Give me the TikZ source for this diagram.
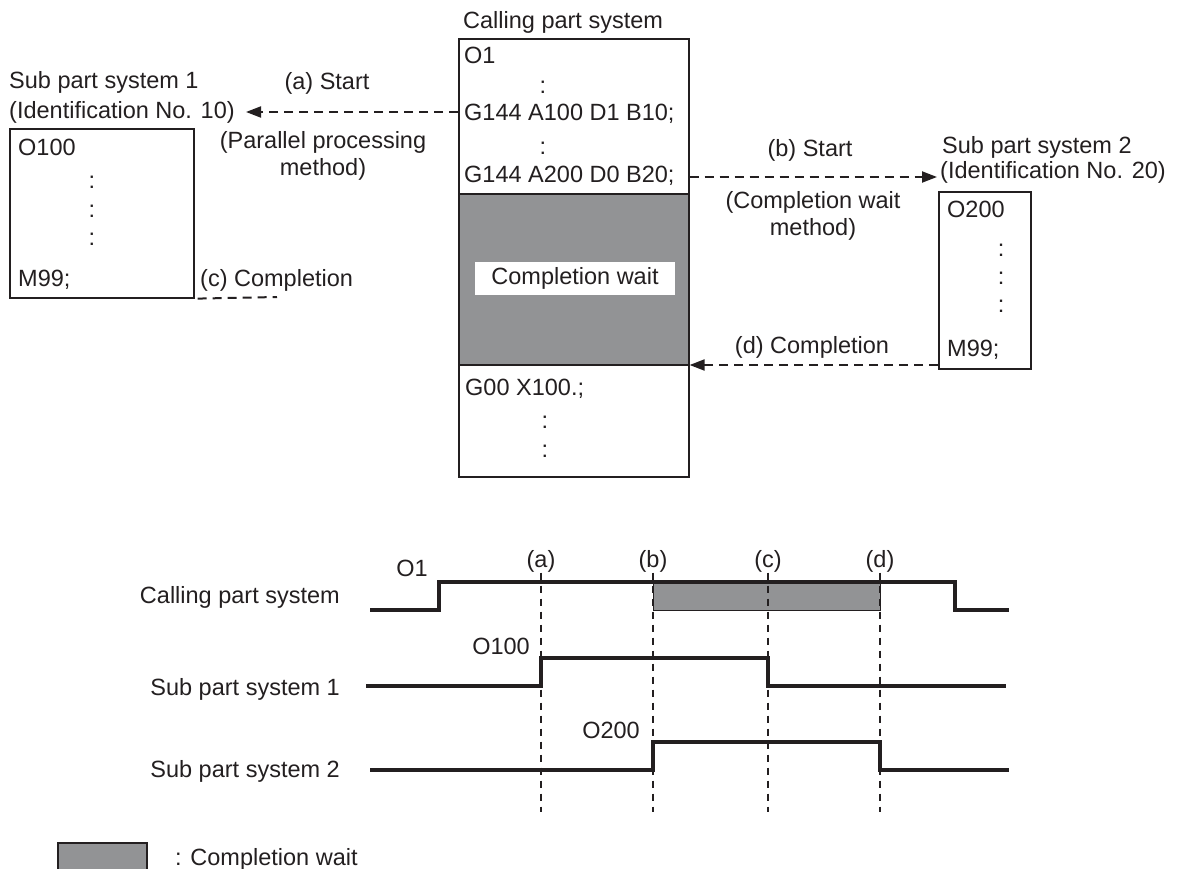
\documentclass[tikz,border=0pt]{standalone}
\usepackage{fontspec}
\setmainfont{Liberation Sans}
\usetikzlibrary{arrows.meta}
\definecolor{waitgray}{RGB}{146,147,149}
\definecolor{ink}{RGB}{35,31,32}
\begin{document}
\begin{tikzpicture}[x=1pt,y=-1pt,
  font=\fontsize{23.5}{28}\selectfont,
  txt/.style={inner sep=0pt, text height=17pt, text depth=0pt, text=ink},
  prog/.style={draw=ink, line width=1.6pt, fill=white, inner sep=0pt},
  conn/.style={draw=ink, line width=2pt, dash pattern=on 9pt off 6pt},
  tipped/.style={-{Triangle[length=15pt,width=11pt]}},
  sig/.style={draw=ink, line width=3.4pt, line join=miter},
  vguide/.style={draw=ink, line width=2.8pt, dash pattern=on 7pt off 6pt}]
\useasboundingbox (0,0) rectangle (1177,869);

% ---------- calling part system ----------
\node[txt, anchor=west] (calllbl) at (463,20) {Calling part system};
\node[prog, anchor=north west, minimum width=230pt, minimum height=438pt] (call) at (458,38) {};
\node[draw=ink, line width=1.6pt, fill=waitgray, anchor=north west, inner sep=0pt,
      minimum width=230pt, minimum height=171pt] (wait) at (458,193) {};
\node[fill=white, inner sep=0pt, minimum width=200pt, minimum height=33pt, text=ink] (waitlbl) at (575,278.5) {Completion wait};
\node[txt, anchor=west] (o1) at (464,55.5) {O1};
\node[txt] (c1) at (543,85) {:};
\node[txt, anchor=west] (g1) at (464,112.5) {G144 A100 D1 B10;};
\node[txt] (c2) at (543,146) {:};
\node[txt, anchor=west] (g2) at (464,174) {G144 A200 D0 B20;};
\node[txt, anchor=west] (g00) at (465,387) {G00 X100.;};
\node[txt] (c3) at (545,420) {:};
\node[txt] (c4) at (545,449) {:};

% ---------- sub part system 1 ----------
\node[txt, anchor=west] (s1a) at (9,80) {Sub part system 1};
\node[txt, anchor=west] (s1b) at (9,110) {(Identification No. 10)};
\node[prog, anchor=north west, minimum width=184pt, minimum height=169pt] (sub1) at (9,128) {};
\node[txt, anchor=west] (o100) at (18,147) {O100};
\node[txt] (d11) at (92,180) {:};
\node[txt] (d12) at (92,209) {:};
\node[txt] (d13) at (92,237) {:};
\node[txt, anchor=west] (m99a) at (18,278) {M99;};
\node[txt, anchor=west] (cc) at (200,278) {(c) Completion};
\coordinate (cend) at (277,297);
\draw[conn] ([xshift=3pt]sub1.south east) -- (cend);

\node[txt] (alab) at (327,81) {(a) Start};
\node[txt] (ppm1) at (323,140) {(Parallel processing};
\node[txt] (ppm2) at (323,167) {method)};
\coordinate (atip) at (246,112);
\draw[conn, tipped] (call.west |- atip) -- (atip);

% ---------- sub part system 2 ----------
\node[txt, anchor=west] (s2a) at (942,145) {Sub part system 2};
\node[txt, anchor=west] (s2b) at (940,170) {(Identification No. 20)};
\node[prog, anchor=north west, minimum width=92pt, minimum height=177pt] (sub2) at (938,191) {};
\node[txt, anchor=west] (o200) at (947,209) {O200};
\node[txt] (d21) at (1001,248) {:};
\node[txt] (d22) at (1001,276) {:};
\node[txt] (d23) at (1001,304) {:};
\node[txt, anchor=west] (m99b) at (947,348) {M99;};

\node[txt] (blab) at (810,148) {(b) Start};
\node[txt] (cwm1) at (813,200) {(Completion wait};
\node[txt] (cwm2) at (813,227) {method)};
\coordinate (btip) at (937,177);
\draw[conn, tipped] (call.east |- btip) -- (btip);

\node[txt] (dlab) at (812,345) {(d) Completion};
\coordinate (dstart) at (938,365);
\draw[conn, tipped] (sub2.west |- dstart) -- (call.east |- dstart);

% ---------- timing chart ----------
\node[txt] (la) at (541,559) {(a)};
\node[txt] (lb) at (653,559) {(b)};
\node[txt] (lc) at (768,559) {(c)};
\node[txt] (ld) at (880,559) {(d)};
\coordinate (ea) at (541,812);
\coordinate (eb) at (653,812);
\coordinate (ec) at (768,812);
\coordinate (ed) at (880,812);

\draw[draw=ink, line width=1pt, fill=waitgray] (653,582) rectangle (880,610);

\draw[vguide] ([yshift=-5pt]la.south) -- (ea);
\draw[vguide] ([yshift=-5pt]lb.south) -- (eb);
\draw[vguide] ([yshift=-5pt]lc.south) -- (ec);
\draw[vguide] ([yshift=-5pt]ld.south) -- (ed);

\node[txt, anchor=east] (tcall) at (340,595) {Calling part system};
\node[txt, anchor=east] (tsub1) at (340,687) {Sub part system 1};
\node[txt, anchor=east] (tsub2) at (340,769) {Sub part system 2};
\node[txt] (to1) at (412,568) {O1};
\node[txt, anchor=east] (to100) at (530,646) {O100};
\node[txt, anchor=east] (to200) at (640,730) {O200};

\draw[sig] (370,610) -- (439,610) -- (439,582) -- (955,582) -- (955,610) -- (1009,610);
\draw[sig] (366,686) -- (541,686) -- (541,658) -- (768,658) -- (768,686) -- (1006,686);
\draw[sig] (370,770) -- (653,770) -- (653,742) -- (880,742) -- (880,770) -- (1009,770);

% ---------- legend ----------
\node[draw=ink, line width=1.6pt, fill=waitgray, anchor=north west, inner sep=0pt,
      minimum width=89pt, minimum height=32pt] (leg) at (57,842) {};
\node[txt, anchor=west] (legtxt) at (175,857) {: Completion wait};
\end{tikzpicture}
\end{document}
